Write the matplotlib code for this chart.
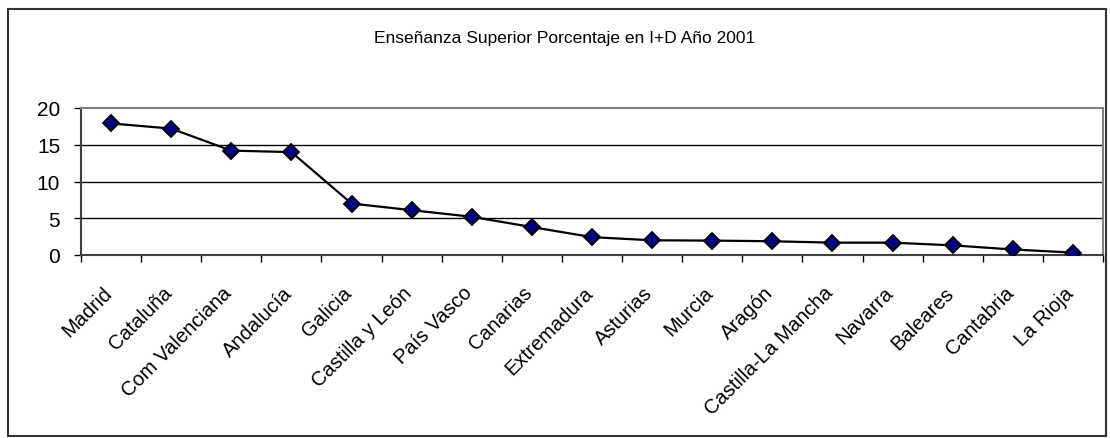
import matplotlib
matplotlib.use("Agg")
import matplotlib.pyplot as plt
import matplotlib.transforms as mtransforms
from matplotlib.patches import Rectangle
import numpy as np

regions = ["Madrid", "Cataluña", "Com Valenciana", "Andalucía", "Galicia",
           "Castilla y León", "País Vasco", "Canarias", "Extremadura", "Asturias",
           "Murcia", "Aragón", "Castilla-La Mancha", "Navarra", "Baleares",
           "Cantabria", "La Rioja"]
values = [17.9, 17.2, 14.2, 14.0, 7.0, 6.1, 5.2, 3.8, 2.43, 2.0,
          1.96, 1.87, 1.68, 1.68, 1.31, 0.75, 0.33]
yticks = [0, 5, 10, 15, 20]
title = "Enseñanza Superior Porcentaje en I+D Año 2001"

plt.rcParams['font.family'] = ['Liberation Sans', 'DejaVu Sans']

W, H = 1110, 439
fig = plt.figure(figsize=(W / 100, H / 100), dpi=100)

# outer chart border
fig.patches.append(Rectangle((8 / W, 1 - 437 / H), (1106 - 8) / W, (437 - 10) / H,
                             transform=fig.transFigure, fill=False,
                             edgecolor='#333333', linewidth=1.5))

left, right, top, bottom = 81, 1103, 109, 256
ax = fig.add_axes([left / W, 1 - bottom / H, (right - left) / W, (bottom - top) / H])

n = len(regions)
x = np.arange(n)
ax.plot(x, values, color='black', linewidth=1.6, marker='D', markersize=8,
        markerfacecolor='#000080', markeredgecolor='black', markeredgewidth=1.3,
        zorder=3)

ax.set_xlim(-0.5, n - 0.5)
ax.set_ylim(0, 20)
ax.set_yticks(yticks)
ax.set_yticklabels([str(v) for v in yticks], fontsize=15)
ax.tick_params(axis='y', direction='out', length=5, width=1, pad=10, colors='black')

for v in yticks[1:-1]:
    ax.axhline(v, color='black', linewidth=1, zorder=1)

ax.spines['top'].set_color('#808080')
ax.spines['right'].set_color('#808080')
ax.spines['top'].set_linewidth(1.5)
ax.spines['right'].set_linewidth(1.5)
ax.spines['left'].set_color('#404040')
ax.spines['left'].set_linewidth(1.5)
ax.spines['bottom'].set_color('#404040')
ax.spines['bottom'].set_linewidth(1.5)

ax.set_xticks(x)
ax.set_xticks(np.arange(n + 1) - 0.5, minor=True)
ax.tick_params(axis='x', which='major', length=0, pad=20)
ax.tick_params(axis='x', which='minor', direction='out', length=5, width=1, color='black')
ax.set_xticklabels(regions, fontsize=14.5, rotation=45, ha='right', va='top',
                   rotation_mode='anchor')
offset = mtransforms.ScaledTranslation(-9 / 100, 0, fig.dpi_scale_trans)
for lab in ax.get_xticklabels():
    lab.set_transform(lab.get_transform() + offset)

fig.text(565 / W, 1 - 43 / H, title, ha='center', va='baseline', fontsize=12.5)

fig.savefig("out.png", dpi=100)
